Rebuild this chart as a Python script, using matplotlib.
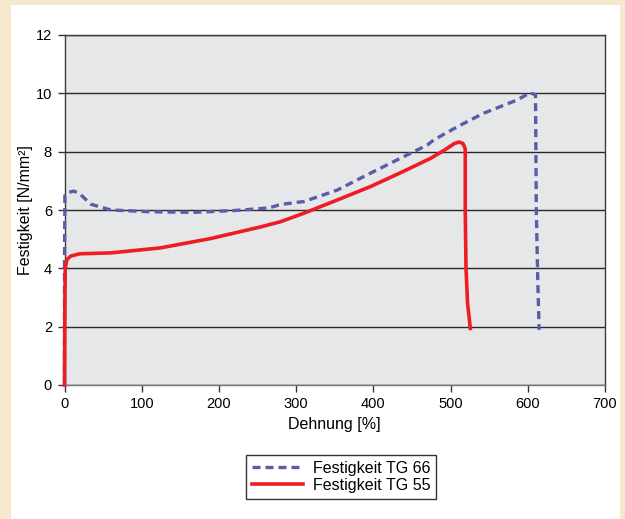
import matplotlib
matplotlib.use("Agg")
import matplotlib.pyplot as plt
from matplotlib.patches import Rectangle

plt.rcParams['font.family'] = ['Liberation Sans', 'DejaVu Sans']

# Festigkeit TG 66 (dashed)
tg66_x = [0, 0, 0.5, 5, 12, 20, 34, 60, 111, 167, 219, 254, 266, 280, 310, 353, 396, 437, 470, 478, 512, 543, 586, 603, 610, 611, 613, 614.7]
tg66_y = [0, 4.0, 6.5, 6.6, 6.65, 6.55, 6.2, 6.0, 5.94, 5.92, 5.98, 6.05, 6.08, 6.19, 6.29, 6.68, 7.26, 7.8, 8.23, 8.4, 8.9, 9.32, 9.77, 10.02, 9.95, 6.0, 3.5, 1.89]

# Festigkeit TG 55 (solid)
tg55_x = [0, 0.5, 1, 3, 8, 20, 60, 124, 189, 254, 280, 310, 353, 396, 437, 474, 490, 505, 511, 516, 519, 519, 520, 522, 525.6]
tg55_y = [0, 3.0, 4.0, 4.3, 4.42, 4.5, 4.53, 4.7, 5.02, 5.42, 5.6, 5.89, 6.34, 6.8, 7.3, 7.77, 8.02, 8.28, 8.33, 8.28, 8.1, 6.0, 4.0, 2.8, 1.94]

x_ticks = [0, 100, 200, 300, 400, 500, 600, 700]
y_ticks = [0, 2, 4, 6, 8, 10, 12]

W, H = 625, 519
fig = plt.figure(figsize=(W / 100, H / 100), dpi=100)
fig.patch.set_facecolor('#F6E8CC')
fig.patches.append(Rectangle((11 / W, 0), (620 - 11) / W, (519 - 5) / H,
                             transform=fig.transFigure, facecolor='white',
                             edgecolor='none', zorder=-10))

ax = fig.add_axes([64.5 / W, 1 - 385 / H, (605 - 64.5) / W, (385 - 35) / H])
ax.set_zorder(1)
ax.set_facecolor('#E6E7E9')
ax.set_xlim(0, 700)
ax.set_ylim(0, 12)
ax.set_xticks(x_ticks)
ax.set_yticks(y_ticks)
ax.tick_params(direction='out', length=5, width=1, color='#333333', labelsize=10.5, pad=4)
ax.yaxis.grid(True, color='#2a2a2a', linewidth=1.0)
ax.set_axisbelow(True)
for s in ['left', 'right', 'top', 'bottom']:
    ax.spines[s].set_color('#3a3a3a')
    ax.spines[s].set_linewidth(1.0)
ax.spines['bottom'].set_color('#777777')

l66, = ax.plot(tg66_x, tg66_y, color='#5B5BA8', linewidth=2.4,
               linestyle=(0, (2.4, 1.5)), label='Festigkeit TG 66',
               solid_capstyle='butt', dash_capstyle='butt', zorder=3,
               clip_on=False)
l55, = ax.plot(tg55_x, tg55_y, color='#EE1C25', linewidth=2.6,
               label='Festigkeit TG 55', solid_joinstyle='round', zorder=4,
               clip_on=False)

ax.set_xlabel('Dehnung [%]', fontsize=11.5, labelpad=4)
ax.set_ylabel('Festigkeit [N/mm²]', fontsize=11.5, labelpad=2)

leg = fig.legend(handles=[l66, l55], loc='upper center',
                 bbox_to_anchor=(341 / W, 1 - 455 / H), fontsize=11.5,
                 frameon=True, fancybox=False, edgecolor='black',
                 handlelength=3.2, borderpad=0.35, labelspacing=0.15,
                 handletextpad=0.6, borderaxespad=0)
leg.get_frame().set_linewidth(1.0)
leg.set_zorder(5)

fig.savefig('out.png', dpi=100, facecolor=fig.get_facecolor())
